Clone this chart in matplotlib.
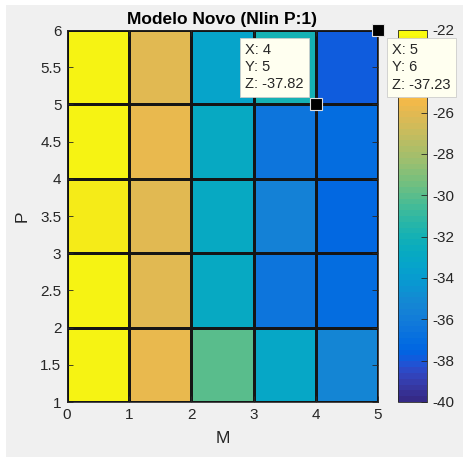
import numpy as np
import matplotlib
matplotlib.use("Agg")
import matplotlib.pyplot as plt
from matplotlib.colors import ListedColormap, Normalize
from matplotlib.patches import Rectangle

plt.rcParams['font.family'] = ['Liberation Sans', 'DejaVu Sans']

# ---- data ----
m_edges = [0, 1, 2, 3, 4, 5]
p_edges = [1, 2, 3, 4, 5, 6]
# cell values, rows = P (1-2 ... 5-6), cols = M (0-1 ... 4-5)
z_row_p1 = [-22.5, -25.8, -30.0, -33.0, -35.4]
z_row_p2 = [-22.3, -26.1, -32.8, -36.4, -37.0]
z_row_p3 = [-22.8, -26.1, -32.8, -35.6, -37.2]
z_row_p4 = [-22.3, -25.8, -32.9, -36.6, -37.1]
z_row_p5 = [-22.3, -26.1, -33.4, -32.1, -37.82]
clim = [-40, -22]
cbar_ticks = [-40, -38, -36, -34, -32, -30, -28, -26, -24, -22]
cbar_labels = ['-40', '-38', '-36', '-34', '-32', '-30', '-28', '-26', '', '-22']
x_ticks = [0, 1, 2, 3, 4, 5]
y_ticks = [1, 1.5, 2, 2.5, 3, 3.5, 4, 4.5, 5, 5.5, 6]
tip_x = [4, 5]
tip_y = [5, 6]
tip_z = [-37.82, -37.23]
title = "Modelo Novo (Nlin P:1)"
xlabel = "M"
ylabel = "P"

parula_data = [
[0.2081,0.1663,0.5292],[0.2116,0.1898,0.5777],[0.2123,0.2138,0.6270],[0.2081,0.2386,0.6771],
[0.1959,0.2645,0.7279],[0.1707,0.2919,0.7792],[0.1253,0.3242,0.8303],[0.0591,0.3598,0.8683],
[0.0117,0.3875,0.8820],[0.0060,0.4086,0.8828],[0.0165,0.4266,0.8786],[0.0329,0.4430,0.8720],
[0.0498,0.4586,0.8641],[0.0629,0.4737,0.8554],[0.0723,0.4887,0.8467],[0.0779,0.5040,0.8384],
[0.0793,0.5200,0.8312],[0.0749,0.5375,0.8263],[0.0641,0.5570,0.8240],[0.0488,0.5772,0.8228],
[0.0343,0.5966,0.8199],[0.0265,0.6137,0.8135],[0.0239,0.6287,0.8038],[0.0231,0.6418,0.7913],
[0.0228,0.6535,0.7768],[0.0267,0.6642,0.7607],[0.0384,0.6743,0.7436],[0.0590,0.6838,0.7254],
[0.0843,0.6928,0.7062],[0.1133,0.7015,0.6859],[0.1453,0.7098,0.6646],[0.1801,0.7177,0.6424],
[0.2178,0.7250,0.6193],[0.2586,0.7317,0.5954],[0.3022,0.7376,0.5712],[0.3482,0.7424,0.5473],
[0.3953,0.7459,0.5244],[0.4420,0.7481,0.5033],[0.4871,0.7491,0.4840],[0.5300,0.7491,0.4661],
[0.5709,0.7485,0.4494],[0.6099,0.7473,0.4337],[0.6473,0.7456,0.4188],[0.6834,0.7435,0.4044],
[0.7184,0.7411,0.3905],[0.7525,0.7384,0.3768],[0.7858,0.7356,0.3633],[0.8185,0.7327,0.3498],
[0.8507,0.7299,0.3360],[0.8824,0.7274,0.3217],[0.9139,0.7258,0.3063],[0.9450,0.7261,0.2886],
[0.9739,0.7314,0.2666],[0.9938,0.7455,0.2403],[0.9990,0.7653,0.2164],[0.9955,0.7861,0.1967],
[0.9880,0.8066,0.1794],[0.9789,0.8271,0.1633],[0.9697,0.8481,0.1475],[0.9626,0.8705,0.1309],
[0.9589,0.8949,0.1132],[0.9598,0.9218,0.0948],[0.9661,0.9514,0.0755],[0.9763,0.9831,0.0538]]
parula = ListedColormap(parula_data, name='parula')

Z = np.array([z_row_p1, z_row_p2, z_row_p3, z_row_p4, z_row_p5])

W, H = 464, 457
fig = plt.figure(figsize=(W/100, H/100), dpi=100, facecolor='white')
fig.patches.append(Rectangle((6/W, 0), 1, 1 - 5/H, transform=fig.transFigure,
                             facecolor='#f0f0f0', edgecolor='none', zorder=-10))

ax = fig.add_axes([67/W, 1 - 402/H, 311/W, 372/H])
cax = fig.add_axes([398/W, 1 - 402/H, 29/W, 372/H])
ax.set_zorder(5)

norm = Normalize(vmin=clim[0], vmax=clim[1])
mesh = ax.pcolormesh(m_edges, p_edges, Z, cmap=parula, norm=norm,
                     edgecolors='#151515', linewidth=0.85, shading='flat')
ax.set_xlim(m_edges[0], m_edges[-1])
ax.set_ylim(p_edges[0], p_edges[-1])
ax.set_xticks(x_ticks)
ax.set_xticklabels([str(t) for t in x_ticks])
ax.set_yticks(y_ticks)
ax.set_yticklabels([('%g' % t) for t in y_ticks])
tc = '#262626'
ax.tick_params(direction='in', length=4, width=0.6, colors=tc, labelsize=11, pad=4,
               top=True, right=True)
for s in ax.spines.values():
    s.set_color(tc)
    s.set_linewidth(0.6)
ax.set_title(title, fontsize=12.5, fontweight='bold', color='black', pad=4)
ax.set_xlabel(xlabel, fontsize=12.5, color=tc, labelpad=7)
ax.set_ylabel(ylabel, fontsize=12.5, color=tc, labelpad=8)

cb = fig.colorbar(mesh, cax=cax, ticks=cbar_ticks)
cb.ax.tick_params(direction='in', length=4, width=0.6, colors=tc, labelsize=11, pad=4)
cb.ax.set_yticklabels(cbar_labels)
cb.outline.set_edgecolor(tc)
cb.outline.set_linewidth(0.6)

# data tips
offsets = [(-12, 13, 'right', 'bottom'), (14, -13, 'left', 'top')]
for (x, y, z, (dx, dy, ha, va)) in zip(tip_x, tip_y, tip_z, offsets):
    ax.plot([x], [y], marker='s', markersize=8, color='black',
            markeredgecolor='#e0e0e0', markeredgewidth=0.8, clip_on=False, zorder=20)
    ax.annotate("X: %g\nY: %g\nZ: %.2f" % (x, y, z), xy=(x, y), xycoords='data',
                xytext=(dx, dy), textcoords='offset pixels', ha=ha, va=va,
                multialignment='left',
                fontsize=10.5, color='#262626', linespacing=1.3, annotation_clip=False,
                bbox=dict(boxstyle='square,pad=0.35', facecolor='#fffff0',
                          edgecolor='#cccccc', linewidth=0.6), zorder=19)

fig.savefig('out.png', dpi=100, facecolor=fig.get_facecolor())
